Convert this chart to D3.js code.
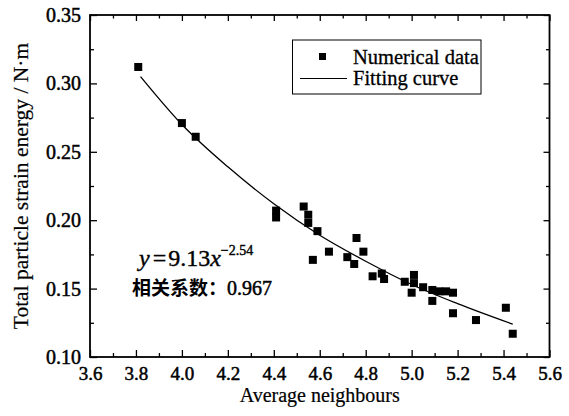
<!DOCTYPE html>
<html><head><meta charset="utf-8">
<script src="https://cdn.jsdelivr.net/npm/d3@7"></script>
<style>body{margin:0;background:#fff} svg{display:block}</style>
</head><body><svg id="c" width="569" height="416"></svg>
<script>
// ---- data ----
const neighbours = [3.81,4.00,4.06,4.41,4.41,4.53,4.55,4.55,4.59,4.57,4.64,4.76,4.72,4.75,4.79,4.83,4.87,4.88,4.97,5.01,5.01,5.00,5.05,5.09,5.12,5.15,5.18,5.09,5.18,5.28,5.41,5.44];
const energy     = [0.312,0.271,0.261,0.207,0.202,0.210,0.204,0.198,0.192,0.171,0.177,0.187,0.173,0.168,0.177,0.159,0.161,0.157,0.155,0.160,0.154,0.147,0.151,0.149,0.148,0.148,0.147,0.141,0.132,0.127,0.136,0.117];
const fitX = [3.82,4.0,4.2,4.4,4.6,4.8,5.0,5.2,5.44];
const fitY = [0.305,0.270,0.239,0.212,0.189,0.170,0.153,0.139,0.124];
const xTicks = [3.6,3.8,4.0,4.2,4.4,4.6,4.8,5.0,5.2,5.4,5.6];
const yTicks = [0.10,0.15,0.20,0.25,0.30,0.35];
const xMinor = [3.7,3.9,4.1,4.3,4.5,4.7,4.9,5.1,5.3,5.5];
const yMinor = [0.125,0.175,0.225,0.275,0.325];
const legendLabels = ["Numerical data","Fitting curve"];
const xTitle = "Average neighbours";
const yTitle = "Total particle strain energy / N·m";

const svg = d3.select("#c");
const L = 90, R = 549.5, T = 15, B = 357;
const x = d3.scaleLinear().domain([3.6,5.6]).range([L,R]);
const y = d3.scaleLinear().domain([0.10,0.35]).range([B,T]);
const serif = "'Liberation Serif','Times New Roman',serif";

function styleAxis(g){ g.attr("font-family",null).attr("font-size",null); g.select(".domain").remove(); g.selectAll("line").attr("stroke","#000").attr("stroke-width",1.3); }
function heavy(sel, w){ sel.attr("stroke","#000").attr("stroke-width",w).attr("paint-order","stroke"); }

// bottom axis
svg.append("g").attr("transform",`translate(0,${B})`)
  .call(d3.axisBottom(x).tickValues(xTicks).tickSize(-7).tickPadding(10).tickFormat(d3.format(".1f")))
  .call(styleAxis)
  .call(g=>g.selectAll("text").style("font-family",serif).style("font-size","19px").attr("fill","#000").call(heavy,0.5));
svg.append("g").attr("transform",`translate(0,${B})`)
  .call(d3.axisBottom(x).tickValues(xMinor).tickSize(-4).tickFormat("")).call(styleAxis);
// top axis
svg.append("g").attr("transform",`translate(0,${T})`)
  .call(d3.axisTop(x).tickValues(xTicks).tickSize(-6).tickFormat("")).call(styleAxis);
svg.append("g").attr("transform",`translate(0,${T})`)
  .call(d3.axisTop(x).tickValues(xMinor).tickSize(-3.5).tickFormat("")).call(styleAxis);
// left axis
svg.append("g").attr("transform",`translate(${L},0)`)
  .call(d3.axisLeft(y).tickValues(yTicks).tickSize(-7).tickPadding(9).tickFormat(d3.format(".2f")))
  .call(styleAxis)
  .call(g=>g.selectAll("text").style("font-family",serif).style("font-size","20px").attr("fill","#000").call(heavy,0.5));
svg.append("g").attr("transform",`translate(${L},0)`)
  .call(d3.axisLeft(y).tickValues(yMinor).tickSize(-4).tickFormat("")).call(styleAxis);
// right axis
svg.append("g").attr("transform",`translate(${R},0)`)
  .call(d3.axisRight(y).tickValues(yTicks).tickSize(-6).tickFormat("")).call(styleAxis);
svg.append("g").attr("transform",`translate(${R},0)`)
  .call(d3.axisRight(y).tickValues(yMinor).tickSize(-3.5).tickFormat("")).call(styleAxis);

// frame
svg.append("rect").attr("x",L).attr("y",T).attr("width",R-L).attr("height",B-T)
  .attr("fill","none").attr("stroke","#000").attr("stroke-width",1.8);

// fitting curve
const fit = fitX.map((v,i)=>[v,fitY[i]]);
svg.append("path").datum(fit)
  .attr("d",d3.line().x(d=>x(d[0])).y(d=>y(d[1])).curve(d3.curveMonotoneX))
  .attr("fill","none").attr("stroke","#000").attr("stroke-width",1.3);

// points
const pts = neighbours.map((v,i)=>[v,energy[i]]);
const s = 8;
svg.append("g").selectAll("rect").data(pts).join("rect")
  .attr("x",d=>x(d[0])-s/2).attr("y",d=>y(d[1])-s/2).attr("width",s).attr("height",s).attr("fill","#000");

// legend
const lg = svg.append("g");
lg.append("rect").attr("x",292.5).attr("y",40).attr("width",188.5).attr("height",54)
  .attr("fill","#fff").attr("stroke","#000").attr("stroke-width",1);
lg.append("rect").attr("x",319).attr("y",53).attr("width",7).attr("height",7).attr("fill","#000");
lg.append("line").attr("x1",300).attr("x2",347).attr("y1",78.5).attr("y2",78.5).attr("stroke","#000").attr("stroke-width",1);
lg.selectAll("text").data(legendLabels).join("text")
  .attr("x",353).attr("y",(d,i)=>64+i*21)
  .attr("font-family",serif).attr("font-size",20.5).attr("fill","#000").call(heavy,0.3).text(d=>d);

// axis titles
svg.append("text").attr("x",(L+R)/2).attr("y",402).attr("text-anchor","middle")
  .attr("font-family",serif).attr("font-size",20).attr("fill","#000").call(heavy,0.2).text(xTitle);
svg.append("text").attr("transform",`translate(28,${(T+B)/2}) rotate(-90)`).attr("text-anchor","middle")
  .attr("font-family",serif).attr("font-size",21.5).attr("fill","#000").call(heavy,0.2).text(yTitle);

// annotation
const eq = svg.append("text").attr("x",139).attr("y",266).attr("font-family",serif).attr("font-size",24).attr("fill","#000").call(heavy,0.4);
eq.append("tspan").attr("font-style","italic").text("y");
eq.append("tspan").attr("dx",3).text("=");
eq.append("tspan").attr("dx",2).text("9.13");
eq.append("tspan").attr("font-style","italic").text("x");
eq.append("tspan").attr("dy",-11).attr("font-size",14).text("−2.54");
const cc = svg.append("text").attr("x",132).attr("y",295)
  .attr("font-size",19).attr("fill","#000");
cc.append("tspan").attr("font-family","'Noto Sans CJK SC',sans-serif").attr("font-weight","bold").text("相关系数：");
cc.append("tspan").attr("font-family",serif).attr("font-size",20).call(heavy,0.5).text("0.967");
</script></body></html>
